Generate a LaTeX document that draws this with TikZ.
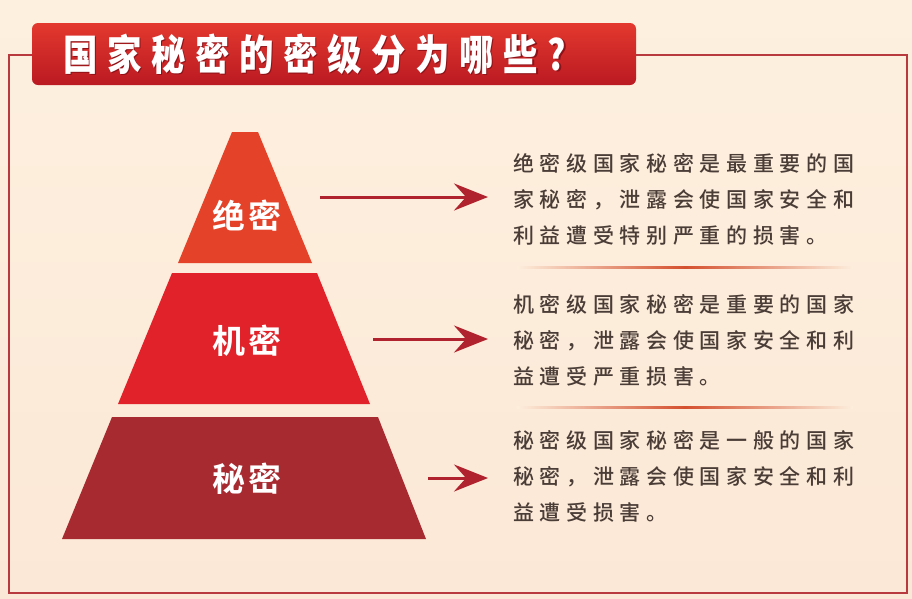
\documentclass[tikz,border=0pt]{standalone}
\usepackage{fontspec}
\usepackage{graphicx}
\usetikzlibrary{arrows.meta}
\newfontfamily\bodyfont[LetterSpace=27]{Noto Sans CJK SC Medium}
\newfontfamily\titlefont[LetterSpace=28]{Noto Sans CJK SC Black}
\newfontfamily\tierfont[LetterSpace=8]{Noto Sans CJK SC Bold}
\definecolor{bgtop}{HTML}{FDF0DF}
\definecolor{bgbot}{HTML}{FCE8D6}
\definecolor{bgcream}{HTML}{FDEEDC}
\definecolor{framered}{HTML}{B83A3E}
\definecolor{bannertop}{HTML}{E3382E}
\definecolor{bannerbot}{HTML}{BA1A22}
\definecolor{titleshadow}{HTML}{8E1218}
\definecolor{tiertop}{HTML}{E4432A}
\definecolor{tiermid}{HTML}{E1222A}
\definecolor{tierbot}{HTML}{A72A30}
\definecolor{arrowred}{HTML}{B0232E}
\definecolor{bodytext}{HTML}{4A3C36}
\definecolor{sepred}{HTML}{D4502F}
\begin{document}
\begin{tikzpicture}[x=1pt,y=-1pt,
  every node/.style={inner sep=0pt, outer sep=0pt},
  frameline/.style={draw=framered, line width=2.2pt},
  banner/.style={rounded corners=6pt, top color=bannertop, bottom color=bannerbot},
  titletext/.style={anchor=west, font=\titlefont\fontsize{42}{42}\selectfont},
  tierlabel/.style={text=white, font=\tierfont\fontsize{33}{33}\selectfont},
  conn/.style={-{Stealth[length=34pt,width=27pt,inset=12pt]}, line width=3pt, draw=arrowred, fill=arrowred},
  bodytxt/.style={anchor=west, text=bodytext, align=left, font=\bodyfont\fontsize{21}{36}\selectfont},
  separator/.style={left color=bgcream, right color=bgcream, middle color=sepred}
]
\useasboundingbox (0,0) rectangle (912,598);
\shade[top color=bgtop, bottom color=bgbot] (0,0) rectangle (912,598);
% frame
\draw[frameline] (9,55) rectangle (907,593);
% banner
\shade[banner] (32,23) rectangle (636,85);
\node[titletext, text=titleshadow] (titleshadow) at (64.2,55.2) {\scalebox{0.82}[1]{国家秘密的密级分为哪些?}};
\node[titletext, text=white] (title) at (63,54) {\scalebox{0.82}[1]{国家秘密的密级分为哪些?}};
% pyramid
\fill[tiertop] (232,132) -- (258,132) -- (312,263) -- (178,263) -- cycle;
\fill[tiermid] (172,273) -- (317,273) -- (370,404) -- (118,404) -- cycle;
\fill[tierbot] (112,417) -- (378,417) -- (426,539) -- (62,539) -- cycle;
\node[tierlabel] (jm) at (247,216) {绝密};
\node[tierlabel] (jim) at (247,341) {机密};
\node[tierlabel] (mm) at (247,479) {秘密};
% arrows
\coordinate (a1s) at (320,197);
\coordinate (a1e) at (488,197);
\coordinate (a2s) at (373,339);
\coordinate (a2e) at (488,339);
\coordinate (a3s) at (428,478);
\coordinate (a3e) at (488,478);
\draw[conn] (a1s) -- (a1e);
\draw[conn] (a2s) -- (a2e);
\draw[conn] (a3s) -- (a3e);
% texts
\node[bodytxt] (t1) at (513,199) {绝密级国家秘密是最重要的国\\家秘密，泄露会使国家安全和\\利益遭受特别严重的损害。};
\node[bodytxt] (t2) at (513,340) {机密级国家秘密是重要的国家\\秘密，泄露会使国家安全和利\\益遭受严重损害。};
\node[bodytxt] (t3) at (513,476) {秘密级国家秘密是一般的国家\\秘密，泄露会使国家安全和利\\益遭受损害。};
% separators
\shade[separator] (517,266.4) rectangle (853,268.2);
\shade[separator] (517,406.4) rectangle (853,408.2);
\end{tikzpicture}
\end{document}
